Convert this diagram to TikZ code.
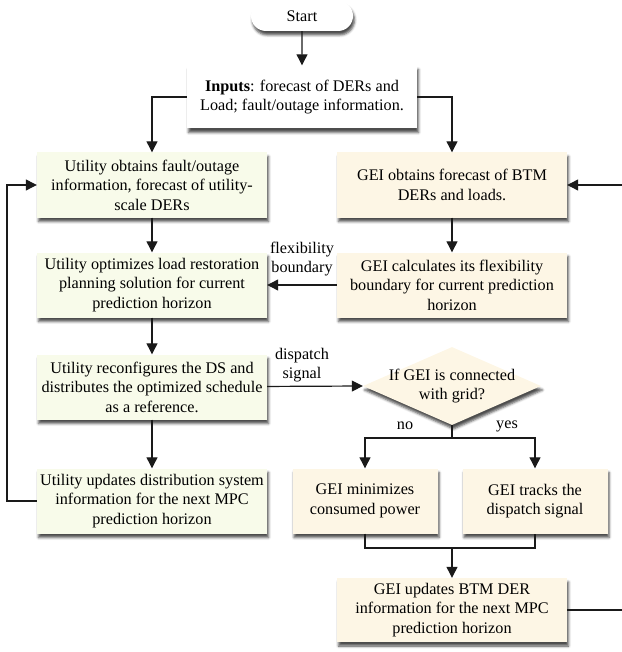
\documentclass[tikz,border=0pt]{standalone}
\usepackage{fontspec}
\setmainfont{Liberation Serif}
\usetikzlibrary{arrows.meta,shapes.geometric,shapes.misc,shadows.blur}

\definecolor{utilfill}{HTML}{F8FBEA}
\definecolor{geifill}{HTML}{FDF6E5}
\definecolor{linecol}{HTML}{1A1A1A}

\tikzset{
  txt/.style={align=center, font=\fontsize{16.2}{19.5}\selectfont, inner sep=0pt},
  shade/.style={blur shadow={shadow xshift=1.5pt, shadow yshift=-4pt,
      shadow blur radius=2.5pt, shadow opacity=70}},
  base/.style={txt, shade, draw=none},
  ubox/.style={base, fill=utilfill, minimum width=230pt, minimum height=65pt},
  gbox/.style={base, fill=geifill, minimum width=230pt, minimum height=65pt},
  gsmall/.style={base, fill=geifill, minimum width=145pt, minimum height=65pt},
  link/.style={draw=linecol, line width=1.2pt},
  flow/.style={link, -{Triangle[length=11pt,width=11pt]}},
  lbl/.style={txt}
}

\begin{document}
\begin{tikzpicture}[x=1pt, y=-1pt]
  \useasboundingbox (0,0) rectangle (621,652);

  % start and inputs
  \node[base, fill=white, rounded rectangle, minimum width=102pt, minimum height=30pt]
    (start) at (302,16) {Start};
  \node[base, fill=white, minimum width=230pt, minimum height=63pt]
    (inputs) at (302,97) {\textbf{Inputs}: forecast of DERs and\\Load; fault/outage information.};

  % utility column
  \node[ubox] (u1) at (152,185) {Utility obtains fault/outage\\information, forecast of utility-\\scale DERs};
  \node[ubox] (u2) at (152,285) {Utility optimizes load restoration\\planning solution for current\\prediction horizon};
  \node[ubox] (u3) at (152,387) {Utility reconfigures the DS and\\distributes the optimized schedule\\as a reference.};
  \node[ubox] (u4) at (152,501) {Utility updates distribution system\\information for the next MPC\\prediction horizon};

  % GEI column
  \node[gbox] (g1) at (452,185) {GEI obtains forecast of BTM\\DERs and loads.};
  \node[gbox] (g2) at (452,285) {GEI calculates its flexibility\\boundary for current prediction\\horizon};
  \node[base, fill=geifill, diamond, aspect=2.28, inner sep=0pt,
        minimum width=178pt, minimum height=78pt] (dia) at (452,386) {};
  \node[txt] (diatext) at (452,386) {If GEI is connected\\with grid?};
  \node[gsmall] (g3) at (365,501) {GEI minimizes\\consumed power};
  \node[gsmall] (g4) at (535,501) {GEI tracks the\\dispatch signal};
  \node[gbox, minimum height=64pt] (g5) at (452,610) {GEI updates BTM DER\\information for the next MPC\\prediction horizon};

  % connector labels
  \node[lbl] (flexlbl) at (302,259) {flexibility\\boundary};
  \node[lbl] (displbl) at (302,365) {dispatch\\signal};
  \node[lbl] (nolbl) at (405,426) {no};
  \node[lbl] (yeslbl) at (507,426) {yes};

  % bend points
  \coordinate (split) at (452,438);
  \coordinate (merge) at (452,548);
  \coordinate (lpost) at (7,500);
  \coordinate (rpost) at (626,610);

  % connectors
  \draw[flow] (start) -- (inputs);
  \draw[flow] (inputs.west) -| (u1.north);
  \draw[flow] (inputs.east) -| (g1.north);
  \draw[flow] (u1) -- (u2);
  \draw[flow] (u2) -- (u3);
  \draw[flow] (u3) -- (u4);
  \draw[flow] (g1) -- (g2);
  \draw[flow] (g2) -- (u2);
  \draw[flow] (u3) -- (dia.west);
  \draw[link] (dia.south) -- (split);
  \draw[flow] (split) -| (g3.north);
  \draw[flow] (split) -| (g4.north);
  \draw[link] (g3.south) |- (merge) -| (g4.south);
  \draw[flow] (merge) -- (g5.north);
  \draw[flow] (u4.west) -| (lpost) |- (u1.west);
  \draw[flow] (g5.east) -- (rpost) |- (g1.east);
\end{tikzpicture}
\end{document}
